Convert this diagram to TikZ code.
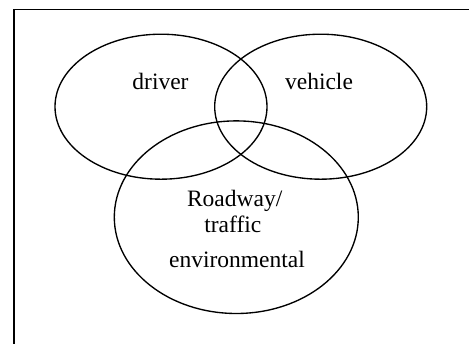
\documentclass[tikz,border=0pt]{standalone}
\usepackage{fontspec}
\setmainfont{Liberation Serif}
\usepackage{tikz}

\tikzset{
  lbl/.style={anchor=base,inner sep=0pt,font=\fontsize{23.5}{28}\selectfont},
  ring/.style={line width=1.35pt},
  frame/.style={line width=1.7pt}
}

\begin{document}
\begin{tikzpicture}[x=1pt,y=-1pt]

\useasboundingbox (0,0) rectangle (469,344);
\clip (0,0) rectangle (469,344);

% outer frame (only left and top edges fall inside the page)
\draw[frame] (14,9.5) rectangle (500,380);

% the three sets
\draw[ring] (161,106.7) ellipse (106 and 72.5);
\draw[ring] (320.7,106.7) ellipse (106 and 72.5);
\draw[ring] (236.3,217.2) ellipse (122 and 96.3);

\node[lbl] (driver) at (160.5,89.5) {driver};
\node[lbl] (vehicle) at (319,90) {vehicle};
\node[lbl] (road) at (234.7,206.7) {Roadway/};
\node[lbl] (traffic) at (232.8,232.3) {traffic};
\node[lbl] (env) at (237,267.3) {environmental};

\end{tikzpicture}
\end{document}
